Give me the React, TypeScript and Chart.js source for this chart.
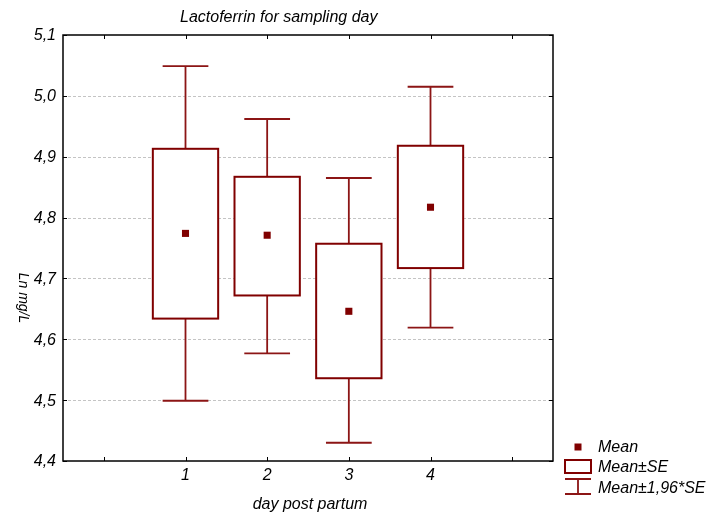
import React, { useEffect, useRef } from 'react';
import { Chart, registerables } from 'chart.js';

Chart.register(...registerables);

const titleText = 'Lactoferrin for sampling day';
const xTitle = 'day post partum';
const yTitle = 'Ln mg/L';
const days = [1, 2, 3, 4];
const dayLabels = ['1', '2', '3', '4'];
const means = [4.774, 4.771, 4.646, 4.817];
const seLow = [4.634, 4.672, 4.536, 4.717];
const seHigh = [4.913, 4.867, 4.757, 4.918];
const ciLow = [4.499, 4.577, 4.430, 4.619];
const ciHigh = [5.049, 4.962, 4.865, 5.015];
const yTicks = [4.4, 4.5, 4.6, 4.7, 4.8, 4.9, 5.0, 5.1];
const xTicks = [0, 1, 2, 3, 4, 5];
const legendLabels = ['Mean', 'Mean\u00B1SE', 'Mean\u00B11,96*SE'];

const RED = '#800000';
const WHISK = '#8c1515';
const FONT = '"Liberation Sans", Arial, sans-serif';

const boxPlugin = {
  id: 'boxesAndFrame',
  beforeDatasetsDraw(chart: any) {
    const { ctx, chartArea: a, scales } = chart;
    const x = scales.x;
    const y = scales.y;
    ctx.save();
    ctx.strokeStyle = '#c4c4c4';
    ctx.lineWidth = 1;
    ctx.setLineDash([3, 2]);
    y.ticks.forEach((t: any) => {
      if (t.value <= y.min + 1e-9 || t.value >= y.max - 1e-9) return;
      const py = Math.round(y.getPixelForValue(t.value)) + 0.5;
      ctx.beginPath();
      ctx.moveTo(a.left, py);
      ctx.lineTo(a.right, py);
      ctx.stroke();
    });
    ctx.setLineDash([]);
    days.forEach((d, i) => {
      const cx = x.getPixelForValue(d);
      const half = x.getPixelForValue(d + 0.4) - cx;
      const cap = x.getPixelForValue(d + 0.28) - cx;
      const yCH = y.getPixelForValue(ciHigh[i]);
      const yCL = y.getPixelForValue(ciLow[i]);
      const ySH = y.getPixelForValue(seHigh[i]);
      const ySL = y.getPixelForValue(seLow[i]);
      ctx.strokeStyle = WHISK;
      ctx.lineWidth = 1.8;
      ctx.beginPath();
      ctx.moveTo(cx, yCH);
      ctx.lineTo(cx, yCL);
      ctx.moveTo(cx - cap, yCH);
      ctx.lineTo(cx + cap, yCH);
      ctx.moveTo(cx - cap, yCL);
      ctx.lineTo(cx + cap, yCL);
      ctx.stroke();
      ctx.fillStyle = '#ffffff';
      ctx.fillRect(cx - half, ySH, 2 * half, ySL - ySH);
      ctx.strokeStyle = RED;
      ctx.lineWidth = 2;
      ctx.strokeRect(cx - half, ySH, 2 * half, ySL - ySH);
    });
    ctx.restore();
  },
  afterDraw(chart: any) {
    const { ctx, chartArea: a, scales } = chart;
    const x = scales.x;
    const y = scales.y;
    ctx.save();
    ctx.strokeStyle = '#000000';
    ctx.lineWidth = 1.5;
    ctx.strokeRect(a.left, a.top, a.right - a.left, a.bottom - a.top);
    ctx.lineWidth = 1;
    ctx.beginPath();
    y.ticks.forEach((t: any) => {
      const py = Math.round(y.getPixelForValue(t.value)) + 0.5;
      ctx.moveTo(a.left, py);
      ctx.lineTo(a.left + 4, py);
      ctx.moveTo(a.right, py);
      ctx.lineTo(a.right - 4, py);
    });
    x.ticks.forEach((t: any) => {
      const px = Math.round(x.getPixelForValue(t.value)) + 0.5;
      ctx.moveTo(px, a.bottom);
      ctx.lineTo(px, a.bottom - 4);
      ctx.moveTo(px, a.top);
      ctx.lineTo(px, a.top + 4);
    });
    ctx.stroke();

    ctx.fillStyle = '#000000';
    ctx.font = `italic 16px ${FONT}`;
    ctx.textAlign = 'right';
    ctx.textBaseline = 'middle';
    y.ticks.forEach((t: any) => {
      const py = y.getPixelForValue(t.value);
      ctx.fillText(t.value.toFixed(1).replace('.', ','), a.left - 7, py + 1);
    });
    ctx.textAlign = 'center';
    days.forEach((d, i) => {
      ctx.fillText(dayLabels[i], x.getPixelForValue(d), a.bottom + 15);
    });
    ctx.textBaseline = 'alphabetic';
    ctx.fillText(xTitle, (a.left + a.right) / 2 + 2, 509);
    ctx.textAlign = 'left';
    ctx.fillText(titleText, 180, 22);
    ctx.save();
    ctx.font = `italic 14px ${FONT}`;
    ctx.translate(23, 298);
    ctx.rotate(Math.PI / 2);
    ctx.textAlign = 'center';
    ctx.textBaseline = 'middle';
    ctx.fillText(yTitle, 0, 0);
    ctx.restore();

    const lx = 578;
    const tx = 598;
    const rows = [448, 468, 489];
    ctx.fillStyle = RED;
    ctx.fillRect(lx - 3.5, rows[0] - 4.5, 7, 7);
    ctx.strokeStyle = RED;
    ctx.lineWidth = 2;
    ctx.strokeRect(lx - 13, rows[1] - 8, 26, 13);
    ctx.strokeStyle = WHISK;
    ctx.lineWidth = 1.8;
    ctx.beginPath();
    ctx.moveTo(lx, rows[2] - 10);
    ctx.lineTo(lx, rows[2] + 5);
    ctx.moveTo(lx - 13, rows[2] - 10);
    ctx.lineTo(lx + 13, rows[2] - 10);
    ctx.moveTo(lx - 13, rows[2] + 5);
    ctx.lineTo(lx + 13, rows[2] + 5);
    ctx.stroke();
    ctx.fillStyle = '#000000';
    ctx.font = `italic 16px ${FONT}`;
    ctx.textAlign = 'left';
    ctx.textBaseline = 'middle';
    legendLabels.forEach((l, i) => ctx.fillText(l, tx, rows[i]));
    ctx.restore();
  },
};

export default function App() {
  const ref = useRef<HTMLCanvasElement>(null);
  useEffect(() => {
    if (!ref.current) return;
    const chart = new Chart(ref.current, {
      type: 'scatter',
      data: {
        datasets: [
          {
            label: 'Mean',
            data: days.map((d, i) => ({ x: d, y: means[i] })),
            pointStyle: 'rect',
            pointRadius: 5,
            pointHoverRadius: 5,
            backgroundColor: RED,
            borderColor: RED,
            borderWidth: 0,
          },
        ],
      },
      options: {
        responsive: false,
        animation: false,
        devicePixelRatio: 1,
        layout: { padding: { top: 35, right: 156, left: 0, bottom: 0 } },
        plugins: {
          legend: { display: false },
          tooltip: { enabled: false },
          title: { display: false },
        },
        scales: {
          x: {
            type: 'linear',
            min: -0.5,
            max: 5.5,
            afterBuildTicks: (s: any) => {
              s.ticks = xTicks.map((v) => ({ value: v }));
            },
            ticks: { display: false },
            grid: { display: false },
            border: { display: false },
            afterFit: (s: any) => {
              s.height = 52;
            },
          },
          y: {
            type: 'linear',
            min: 4.4,
            max: 5.1,
            afterBuildTicks: (s: any) => {
              s.ticks = yTicks.map((v) => ({ value: v }));
            },
            ticks: { display: false },
            grid: { display: false },
            border: { display: false },
            afterFit: (s: any) => {
              s.width = 63;
            },
          },
        },
      } as any,
      plugins: [boxPlugin],
    });
    return () => chart.destroy();
  }, []);
  return (
    <div style={{ position: 'fixed', left: 0, top: 0, width: 709, height: 513, background: '#fff' }}>
      <canvas ref={ref} width={709} height={513} style={{ display: 'block' }} />
    </div>
  );
}
